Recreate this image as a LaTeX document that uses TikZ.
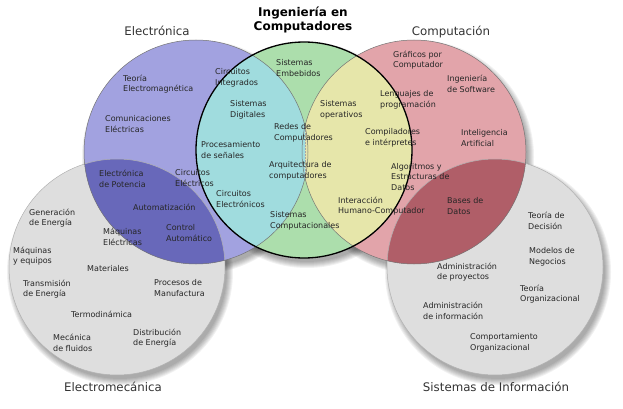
\documentclass[tikz,border=0pt]{standalone}
\usepackage{fontspec}
\setmainfont{DejaVu Sans}
\definecolor{cLav}{RGB}{162,162,224}
\definecolor{cPink}{RGB}{226,164,170}
\definecolor{cGreen}{RGB}{172,222,172}
\definecolor{cCyan}{RGB}{160,220,222}
\definecolor{cYellow}{RGB}{230,230,170}
\definecolor{cGray}{RGB}{222,222,222}
\definecolor{cDBlue}{RGB}{104,104,186}
\definecolor{cDRed}{RGB}{176,94,104}
\begin{document}
\begin{tikzpicture}[x=1pt,y=-1pt,
  lbl/.style={anchor=west,align=left,inner sep=0pt,font=\fontsize{8}{10.5}\selectfont,text=black!85},
  ttl/.style={inner sep=0pt,font=\fontsize{11.8}{14}\selectfont,text=black!80},
  rim/.style={draw=black!55,line width=0.5pt},
  grayrim/.style={draw=black!30,line width=0.5pt}]
\useasboundingbox (0,0) rectangle (623,409);
\coordinate (cE) at (196,152);
\coordinate (cC) at (414,152);
\coordinate (cI) at (304,150);
\coordinate (cM) at (117,267);
\coordinate (cS) at (495,267);
% soft shadows
\foreach \c/\r in {cE/112,cC/112,cI/108,cM/108,cS/108}{
  \foreach \d in {-1,0,1,2,3,4,5}{
    \fill[black,opacity=0.055] ([shift={(3,5)}]\c) circle[radius={(\r+\d)*1pt}];
  }
}
% base fills
\fill[cGray] (cM) circle[radius=108pt];
\fill[cGray] (cS) circle[radius=108pt];
\fill[cLav] (cE) circle[radius=112pt];
\fill[cPink] (cC) circle[radius=112pt];
\begin{scope}
  \clip (cM) circle[radius=108pt];
  \fill[cDBlue] (cE) circle[radius=112pt];
\end{scope}
\begin{scope}
  \clip (cS) circle[radius=108pt];
  \fill[cDRed] (cC) circle[radius=112pt];
\end{scope}
\fill[cGreen] (cI) circle[radius=108pt];
\begin{scope}
  \clip (cI) circle[radius=108pt];
  \begin{scope}
    \clip (0,0) rectangle (305,409);
    \fill[cCyan] (cE) circle[radius=112pt];
  \end{scope}
  \begin{scope}
    \clip (305,0) rectangle (623,409);
    \fill[cYellow] (cC) circle[radius=112pt];
  \end{scope}
\end{scope}
\draw[black!35,line width=0.4pt,dash pattern=on 1.5pt off 1.5pt] (305,127) -- (305,177);
% outlines
\draw[grayrim] (cM) circle[radius=108pt];
\draw[grayrim] (cS) circle[radius=108pt];
\draw[rim] (cE) circle[radius=112pt];
\draw[rim] (cC) circle[radius=112pt];
\draw[black,line width=1.3pt] (cI) circle[radius=108pt];
% titles
\node[font=\bfseries\fontsize{12}{14}\selectfont,align=center,inner sep=0pt,text=black] (tI) at (303,20) {Ingeniería en\\Computadores};
\node[ttl] (tE) at (157,31) {Electrónica};
\node[ttl] (tC) at (451,32) {Computación};
\node[ttl] (tM) at (113,387) {Electromecánica};
\node[ttl] (tS) at (496,387) {Sistemas de Información};
% Electronica
\node[lbl] (l1) at (123,84) {Teoría\\Electromagnética};
\node[lbl] (l2) at (105,124) {Comunicaciones\\Eléctricas};
% cyan
\node[lbl] (l3) at (215,78) {Circuitos\\Integrados};
\node[lbl] (l4) at (230,110) {Sistemas\\Digitales};
\node[lbl] (l5) at (201,150) {Procesamiento\\de señales};
\node[lbl] (l6) at (274,133) {Redes de\\Computadores};
\node[lbl] (l7) at (269,171) {Arquitectura de\\computadores};
\node[lbl] (l8) at (216,199) {Circuitos\\Electrónicos};
\node[lbl] (l9) at (175,178) {Circuitos\\Eléctricos};
\node[lbl] (l10) at (270,221) {Sistemas\\Computacionales};
% green
\node[lbl] (l11) at (276,68) {Sistemas\\Embebidos};
% yellow
\node[lbl] (l12) at (320,110) {Sistemas\\operativos};
\node[lbl] (l13) at (380,100) {Lenguajes de\\programación};
\node[lbl] (l14) at (365,138) {Compiladores\\e intérpretes};
\node[lbl] (l15) at (391,177) {Algoritmos y\\Estructuras de\\Datos};
\node[lbl] (l16) at (338,206) {Interacción\\Humano-Computador};
% red
\node[lbl] (l17) at (393,60) {Gráficos por\\Computador};
\node[lbl] (l18) at (447,84) {Ingeniería\\de Software};
\node[lbl] (l19) at (461,138) {Inteligencia\\Artificial};
\node[lbl] (l20) at (447,206) {Bases de\\Datos};
% sistemas de informacion
\node[lbl] (l21) at (528,221) {Teoría de\\Decisión};
\node[lbl] (l22) at (529,257) {Modelos de\\Negocios};
\node[lbl] (l23) at (520,294) {Teoría\\Organizacional};
\node[lbl] (l24) at (437,272) {Administración\\de proyectos};
\node[lbl] (l25) at (423,311) {Administración\\de información};
\node[lbl] (l26) at (470,343) {Comportamiento\\Organizacional};
% dark blue
\node[lbl] (l27) at (99,179) {Electrónica\\de Potencia};
\node[lbl] (l28) at (133,207) {Automatización};
\node[lbl] (l29) at (166,233) {Control\\Automático};
\node[lbl] (l30) at (103,237) {Máquinas\\Eléctricas};
% electromecanica
\node[lbl] (l31) at (29,218) {Generación\\de Energía};
\node[lbl] (l32) at (13,256) {Máquinas\\y equipos};
\node[lbl] (l33) at (87,269) {Materiales};
\node[lbl] (l34) at (23,289) {Transmisión\\de Energía};
\node[lbl] (l35) at (154,288) {Procesos de\\Manufactura};
\node[lbl] (l36) at (71,314) {Termodinámica};
\node[lbl] (l37) at (53,343) {Mecánica\\de fluidos};
\node[lbl] (l38) at (133,338) {Distribución\\de Energía};
\end{tikzpicture}
\end{document}
